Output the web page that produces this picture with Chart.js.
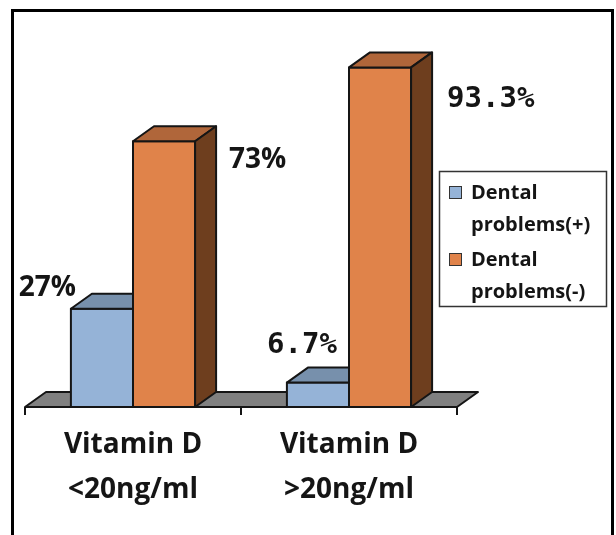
<!DOCTYPE html>
<html>
<head>
<meta charset="utf-8">
<script src="https://cdn.jsdelivr.net/npm/chart.js@4.4.0/dist/chart.umd.min.js"></script>
<style>
  html, body { margin: 0; padding: 0; background: #fff; }
  #wrap { position: relative; width: 616px; height: 535px; }
</style>
</head>
<body>
<div id="wrap"><canvas id="vitaminChart" width="616" height="535"></canvas></div>
<script>
// data
const categories = [["Vitamin D", "<20ng/ml"], ["Vitamin D", ">20ng/ml"]];
const seriesNames = [["Dental", "problems(+)"], ["Dental", "problems(-)"]];
const problemsPlus = [27, 6.7];
const problemsMinus = [73, 93.3];
const yRange = [0, 100];

// 3d look
const DX = 21, DY = -15;
const INK = "#151515";

// where each value label sits relative to its bar (blue: right edge from bar left, orange: left edge from side)
const labelShift = [
  [[5, -13], [50, -30]],
  [[13, 27], [15, 40]],
];
const labelFonts = [
  ["bold 28px 'Open Sans'", "bold 29px 'DejaVu Sans Mono'"],
  ["bold 28px 'Open Sans'", "bold 29px 'DejaVu Sans Mono'"],
];

function poly(ctx, pts, fill) {
  ctx.beginPath();
  ctx.moveTo(pts[0][0], pts[0][1]);
  for (let i = 1; i < pts.length; i++) ctx.lineTo(pts[i][0], pts[i][1]);
  ctx.closePath();
  ctx.fillStyle = fill;
  ctx.fill();
  ctx.stroke();
}

const bars3d = {
  id: "bars3d",
  beforeDatasetsDraw(chart) {
    const { ctx, chartArea: a } = chart;
    ctx.save();
    ctx.lineWidth = 2;
    ctx.strokeStyle = INK;
    ctx.lineJoin = "round";
    // floor
    poly(ctx, [[a.left, a.bottom], [a.right, a.bottom], [a.right + DX, a.bottom + DY], [a.left + DX, a.bottom + DY]], "#808080");
    ctx.restore();
  },
  afterDatasetsDraw(chart) {
    const ctx = chart.ctx;
    ctx.save();
    ctx.lineWidth = 2;
    ctx.strokeStyle = INK;
    ctx.lineJoin = "round";
    for (let i = 0; i < categories.length; i++) {
      chart.data.datasets.forEach((ds, d) => {
        const bar = chart.getDatasetMeta(d).data[i];
        const l = bar.x - bar.width / 2, r = bar.x + bar.width / 2;
        const t = bar.y, b = bar.base;
        poly(ctx, [[l, b], [r, b], [r, t], [l, t]], ds.backgroundColor);
        poly(ctx, [[l, t], [r, t], [r + DX, t + DY], [l + DX, t + DY]], ds.topColor);
        poly(ctx, [[r, b], [r + DX, b + DY], [r + DX, t + DY], [r, t]], ds.sideColor);
      });
    }
    // value labels
    ctx.fillStyle = INK;
    ctx.textBaseline = "alphabetic";
    chart.data.datasets.forEach((ds, d) => {
      chart.getDatasetMeta(d).data.forEach((bar, i) => {
        const [sx, sy] = labelShift[d][i];
        ctx.font = labelFonts[d][i];
        const text = ds.data[i] + "%";
        if (d === 0) {
          ctx.textAlign = "right";
          ctx.fillText(text, bar.x - bar.width / 2 + sx, bar.y + sy);
        } else {
          ctx.textAlign = "left";
          ctx.fillText(text, bar.x + bar.width / 2 + DX + sx, bar.y + sy);
        }
      });
    });
    ctx.restore();
  },
  afterDraw(chart) {
    const ctx = chart.ctx;
    ctx.save();
    // legend box
    ctx.strokeStyle = "#333";
    ctx.lineWidth = 1.5;
    ctx.strokeRect(439.5, 171.5, 167, 135);
    ctx.font = "bold 20px 'Open Sans'";
    ctx.textAlign = "left";
    ctx.textBaseline = "alphabetic";
    chart.data.datasets.forEach((ds, d) => {
      const y0 = 186 + d * 67;
      ctx.fillStyle = ds.backgroundColor;
      ctx.fillRect(449, y0, 13, 13);
      ctx.lineWidth = 1;
      ctx.strokeStyle = "#333";
      ctx.strokeRect(449.5, y0 + 0.5, 12, 12);
      ctx.fillStyle = INK;
      seriesNames[d].forEach((line, k) => ctx.fillText(line, 471, y0 + 13 + k * 32));
    });
    // outer frame
    ctx.strokeStyle = "#000";
    ctx.lineWidth = 3;
    ctx.strokeRect(12.5, 10.5, 600, 560);
    ctx.restore();
  },
};

const ctx = document.getElementById("vitaminChart").getContext("2d");
window.vitaminChart = new Chart(ctx, {
  type: "bar",
  data: {
    labels: categories,
    datasets: [
      {
        label: seriesNames[0].join(" "),
        data: problemsPlus,
        backgroundColor: "#95B3D7",
        topColor: "#7790AC",
        sideColor: "#5F7896",
        borderWidth: 0,
      },
      {
        label: seriesNames[1].join(" "),
        data: problemsMinus,
        backgroundColor: "#E0834A",
        topColor: "#B0663A",
        sideColor: "#6E3E1E",
        borderWidth: 0,
      },
    ],
  },
  options: {
    responsive: false,
    animation: false,
    layout: { padding: { left: 25, right: 159, top: 43, bottom: 0 } },
    categoryPercentage: 0.575,
    barPercentage: 1,
    plugins: { legend: { display: false }, tooltip: { enabled: false } },
    scales: {
      x: {
        offset: true,
        grid: {
          display: true,
          offset: true,
          drawOnChartArea: false,
          drawTicks: true,
          tickLength: 8,
          color: INK,
          lineWidth: 2,
        },
        border: { display: false },
        ticks: {
          color: INK,
          font: { family: "'Open Sans'", size: 28, weight: "bold", lineHeight: 1.6 },
          padding: 8,
          maxRotation: 0,
          autoSkip: false,
        },
        afterFit(scale) {
          scale.height = 128;
        },
      },
      y: { display: false, min: yRange[0], max: yRange[1] },
    },
  },
  plugins: [bars3d],
});
</script>
</body>
</html>
